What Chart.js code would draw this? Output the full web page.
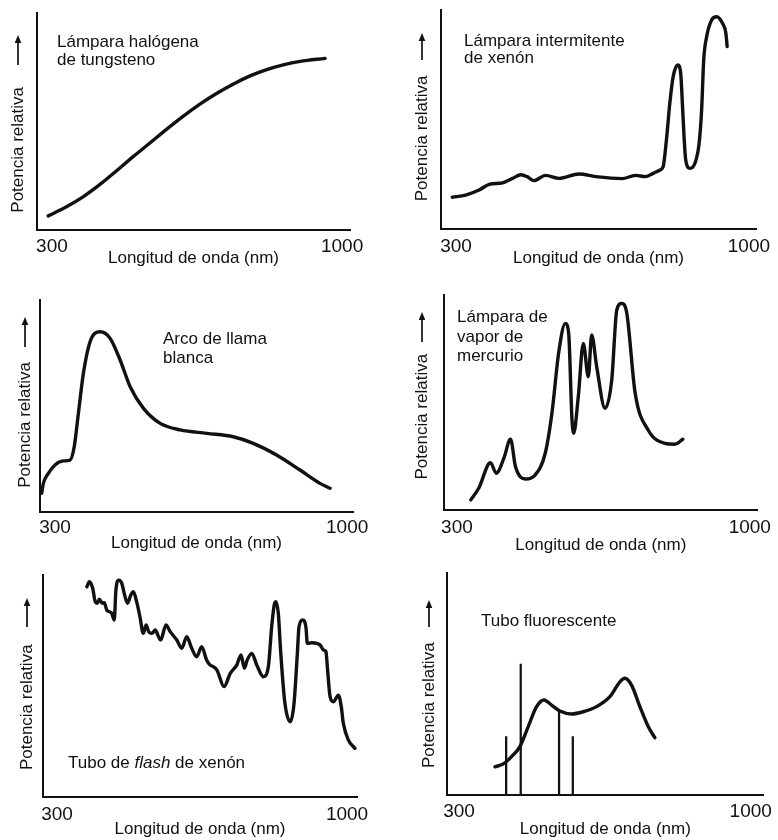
<!DOCTYPE html>
<html>
<head>
<meta charset="utf-8">
<script src="https://cdn.jsdelivr.net/npm/chart.js@4.4.1/dist/chart.umd.min.js"></script>
<style>
html,body{margin:0;padding:0;background:#fff;}
#wrap{position:relative;width:778px;height:840px;overflow:hidden;background:#fff;}
#wrap canvas{position:absolute;}
</style>
</head>
<body>
<div id="wrap">
<canvas id="c1" width="389" height="280" style="left:0px;top:0px"></canvas>
<canvas id="c2" width="389" height="280" style="left:389px;top:0px"></canvas>
<canvas id="c3" width="389" height="280" style="left:0px;top:280px"></canvas>
<canvas id="c4" width="389" height="280" style="left:389px;top:280px"></canvas>
<canvas id="c5" width="389" height="280" style="left:0px;top:560px"></canvas>
<canvas id="c6" width="389" height="280" style="left:389px;top:560px"></canvas>
</div>
<script>
// ---------- DATA (wavelength in nm, relative power 0-100) ----------
const xTickValues = [300, 1000];
const xAxisTitle = 'Longitud de onda (nm)';
const yAxisTitle = 'Potencia relativa';

// Lámpara halógena de tungsteno
const halogenNm  = [291, 335, 376, 416, 456, 496, 537, 577, 617, 657, 698, 738, 778, 818, 858, 899, 959];
const halogenPow = [6.5, 10.7, 15.4, 21.0, 27.3, 33.8, 40.2, 46.5, 52.5, 58.0, 63.0, 67.3, 71.0, 73.9, 76.1, 77.7, 79.1];

// Lámpara intermitente de xenón
const xenonLampNm  = [291, 323, 355, 379, 411, 435, 455, 470, 486, 514, 546, 594, 634, 697, 729, 753, 771, 787, 795, 803, 811, 819, 830, 837, 841, 845, 849, 859, 871, 881, 887, 892, 899, 911, 923, 937, 945, 948];
const xenonLampPow = [14.5, 15.5, 17.8, 20.4, 21.1, 23.1, 24.8, 23.9, 22.1, 24.5, 23.1, 25.1, 23.9, 23.0, 24.5, 23.9, 25.4, 26.9, 28.4, 40.9, 57.5, 69.6, 74.9, 71.1, 57.4, 42.2, 31.5, 27.7, 30.0, 39.1, 54.3, 77.2, 87.8, 95.4, 96.9, 93.9, 89.4, 83.3];

// Arco de llama blanca
const arcNm  = [268, 272, 284, 300, 320, 336, 346, 356, 368, 384, 408, 432, 456, 480, 512, 552, 600, 664, 727, 775, 831, 887, 935, 959];
const arcPow = [8.8, 13.5, 18.2, 22.2, 24.1, 24.5, 30.8, 46.6, 65.4, 80.3, 85, 81.9, 71.7, 59.1, 48.9, 41.8, 38.7, 37.1, 35.5, 32.4, 26.9, 19.8, 13.5, 11.2];

// Lámpara de vapor de mercurio
const mercuryNm  = [333, 352, 380, 394, 412, 428, 440, 464, 487, 511, 527, 543, 559, 567, 575, 579, 590, 602, 614, 622, 634, 654, 670, 682, 694, 706, 726, 757, 797, 821, 840];
const mercuryPow = [4.7, 10.1, 22, 17.1, 24, 32.9, 20.1, 14.4, 16.3, 26.4, 45, 72.9, 86.8, 82.2, 41.9, 35.7, 52.7, 77.5, 62, 81.4, 66.7, 47.3, 60.5, 93, 96.1, 91.5, 54.3, 37.2, 31, 30.6, 32.9];

// Tubo de flash de xenón
const flashNm  = [372, 378, 386, 392, 397, 402, 409, 414, 420, 426, 432, 438, 442, 449, 456, 463, 470, 478, 484, 492, 500, 508, 515, 521, 529, 537, 545, 550, 563, 573, 589, 601, 613, 625, 637, 649, 661, 669, 677, 686, 703, 718, 734, 744, 752, 759, 770, 782, 798, 810, 818, 825, 828, 834, 840, 850, 863, 872, 880, 884, 893, 901, 904, 915, 927, 935, 943, 949, 953, 959, 967, 979, 986, 991, 1003, 1019];
const flashPow = [94.7, 97.0, 94.0, 88.0, 87.3, 89.1, 87.3, 87.5, 84.2, 83.5, 82.7, 79.7, 93.2, 97.7, 96.3, 91.0, 87.3, 91.0, 92.5, 88.0, 81.2, 73.7, 77.5, 74.5, 73.7, 75.2, 72.2, 70.7, 77.5, 74.5, 70.7, 67.0, 72.2, 67.0, 63.2, 67.7, 61.7, 59.5, 58.7, 57.2, 49.7, 55.7, 59.5, 64.0, 58.0, 61.7, 64.7, 59.5, 54.2, 58.7, 76.7, 87.3, 88.0, 82.8, 64.7, 42.2, 33.9, 42.2, 64.7, 76.7, 79.7, 76.0, 69.2, 69.5, 69.2, 68.5, 66.2, 65.5, 57.2, 45.2, 42.9, 45.9, 40.7, 33.2, 25.7, 21.9];

// Tubo fluorescente (continuo + líneas de mercurio)
const fluoNm  = [386, 406, 426, 446, 466, 486, 504, 522, 542, 570, 598, 630, 662, 686, 698, 714, 734, 754, 770];
const fluoPow = [12.7, 14.0, 17.3, 21.8, 30.8, 39.8, 42.8, 40.5, 37.8, 36.5, 37.5, 39.8, 44.3, 51.0, 52.6, 49.5, 39.8, 30.8, 25.8];
const fluoLineNm  = [413, 448, 540, 573];
const fluoLinePow = [26.3, 59.0, 37.5, 26.3];

// ---------- STYLE / LAYOUT ----------
const INK = '#111111';
const FONT = '"Liberation Sans", Arial, Helvetica, sans-serif';
const W = 389, H = 280;

const panels = [
  { id: 'c1', nm: halogenNm, pow: halogenPow, xMin: 264, xMax: 1019,
    area: { l: 37, t: 13, r: 350, b: 230 }, yTitleX: 18, ySpaces: 12, arrow: [35, 65], tickY: 247, titleY: 258,
    text: [ { x: 57, y: 47, parts: [['Lámpara halógena', false]] }, { x: 57, y: 65, parts: [['de tungsteno', false]] } ] },
  { id: 'c2', nm: xenonLampNm, pow: xenonLampPow, xMin: 264, xMax: 1017,
    area: { l: 52, t: 10, r: 367, b: 229 }, yTitleX: 33, ySpaces: 8, arrow: [33, 60], tickY: 247, titleY: 258,
    text: [ { x: 75, y: 46, parts: [['Lámpara intermitente', false]] }, { x: 75, y: 63, parts: [['de xenón', false]] } ] },
  { id: 'c3', nm: arcNm, pow: arcPow, xMin: 264, xMax: 1014,
    area: { l: 40, t: 20, r: 353, b: 232 }, yTitleX: 25, ySpaces: 8, arrow: [37, 67], tickY: 248, titleY: 263,
    text: [ { x: 163, y: 64, parts: [['Arco de llama', false]] }, { x: 163, y: 83, parts: [['blanca', false]] } ] },
  { id: 'c4', nm: mercuryNm, pow: mercuryPow, xMin: 269, xMax: 1019,
    area: { l: 55, t: 15, r: 370, b: 230 }, yTitleX: 33, ySpaces: 6, arrow: [32, 62], tickY: 248, titleY: 265,
    text: [ { x: 68, y: 42, parts: [['Lámpara de', false]] }, { x: 68, y: 61.5, parts: [['vapor de', false]] }, { x: 68, y: 81, parts: [['mercurio', false]] } ] },
  { id: 'c5', nm: flashNm, pow: flashPow, xMin: 266, xMax: 1024,
    area: { l: 43, t: 15, r: 357, b: 237 }, yTitleX: 27, ySpaces: 9, arrow: [38, 67], tickY: 255, titleY: 270,
    text: [ { x: 68, y: 208, parts: [['Tubo de ', false], ['flash', true], [' de xenón', false]] } ] },
  { id: 'c6', nm: fluoNm, pow: fluoPow, xMin: 271, xMax: 1031, lineNm: fluoLineNm, linePow: fluoLinePow,
    area: { l: 58, t: 13, r: 375, b: 235 }, yTitleX: 40, ySpaces: 9, arrow: [40, 67], tickY: 252, titleY: 270,
    text: [ { x: 92, y: 66, parts: [['Tubo fluorescente', false]] } ] }
];

// Plugin: panel caption text and the upward arrow beside the y title
const panelDecor = {
  id: 'panelDecor',
  afterDraw(chart, args, opts) {
    const p = opts.panel;
    if (!p) return;
    const ctx = chart.ctx;
    ctx.save();
    ctx.fillStyle = INK;
    ctx.textBaseline = 'alphabetic';
    ctx.textAlign = 'left';
    p.text.forEach(line => {
      let x = line.x;
      line.parts.forEach(([t, italic]) => {
        ctx.font = (italic ? 'italic ' : '') + '17px ' + FONT;
        ctx.fillText(t, x, line.y);
        x += ctx.measureText(t).width;
      });
    });
    // arrow
    const ax = p.yTitleX;
    const [head, tail] = p.arrow;
    ctx.strokeStyle = INK;
    ctx.lineWidth = 1.7;
    ctx.beginPath();
    ctx.moveTo(ax, tail);
    ctx.lineTo(ax, head + 6);
    ctx.stroke();
    ctx.beginPath();
    ctx.moveTo(ax, head);
    ctx.lineTo(ax - 3.3, head + 8);
    ctx.lineTo(ax + 3.3, head + 8);
    ctx.closePath();
    ctx.fill();
    ctx.restore();
  }
};

panels.forEach(p => {
  const datasets = [{
    type: 'line',
    data: p.nm.map((v, i) => ({ x: v, y: p.pow[i] })),
    borderColor: INK,
    borderWidth: 3.4,
    pointRadius: 0,
    tension: 0.4,
    cubicInterpolationMode: 'monotone',
    borderCapStyle: 'round',
    borderJoinStyle: 'round',
    fill: false
  }];
  if (p.lineNm) {
    datasets.push({
      type: 'bar',
      data: p.lineNm.map((v, i) => ({ x: v, y: p.linePow[i] })),
      backgroundColor: INK,
      borderWidth: 0,
      barThickness: 1.6
    });
  }
  const a = p.area;
  new Chart(document.getElementById(p.id), {
    type: 'line',
    data: { datasets },
    plugins: [panelDecor],
    options: {
      responsive: false,
      animation: false,
      devicePixelRatio: 1,
      events: [],
      layout: { padding: { left: 0, top: a.t, right: W - a.r, bottom: 0 } },
      plugins: {
        legend: { display: false },
        tooltip: { enabled: false },
        panelDecor: { panel: p }
      },
      scales: {
        x: {
          type: 'linear',
          min: p.xMin,
          max: p.xMax,
          offset: false,
          grid: { display: false, drawTicks: false },
          border: { display: true, color: INK, width: 2 },
          afterBuildTicks: s => { s.ticks = xTickValues.map(v => ({ value: v })); },
          afterFit: s => { s.height = H - a.b; },
          ticks: {
            color: INK,
            font: { size: 19, family: FONT },
            padding: p.tickY - a.b - 11.4,
            maxRotation: 0,
            autoSkip: false,
            callback: v => String(v)
          },
          title: {
            display: true,
            text: xAxisTitle,
            color: INK,
            font: { size: 17, family: FONT },
            padding: { top: 0, bottom: Math.max(0, H - p.titleY - 10.2) }
          }
        },
        y: {
          type: 'linear',
          min: 0,
          max: 100,
          grid: { display: false, drawTicks: false },
          border: { display: true, color: INK, width: 2 },
          ticks: { display: false },
          afterFit: s => { s.width = a.l; },
          title: {
            display: true,
            text: yAxisTitle + ' '.repeat(p.ySpaces),
            color: INK,
            font: { size: 17, family: FONT },
            padding: { top: p.yTitleX - 10.2, bottom: 0 }
          }
        }
      }
    }
  });
});
</script>
</body>
</html>
